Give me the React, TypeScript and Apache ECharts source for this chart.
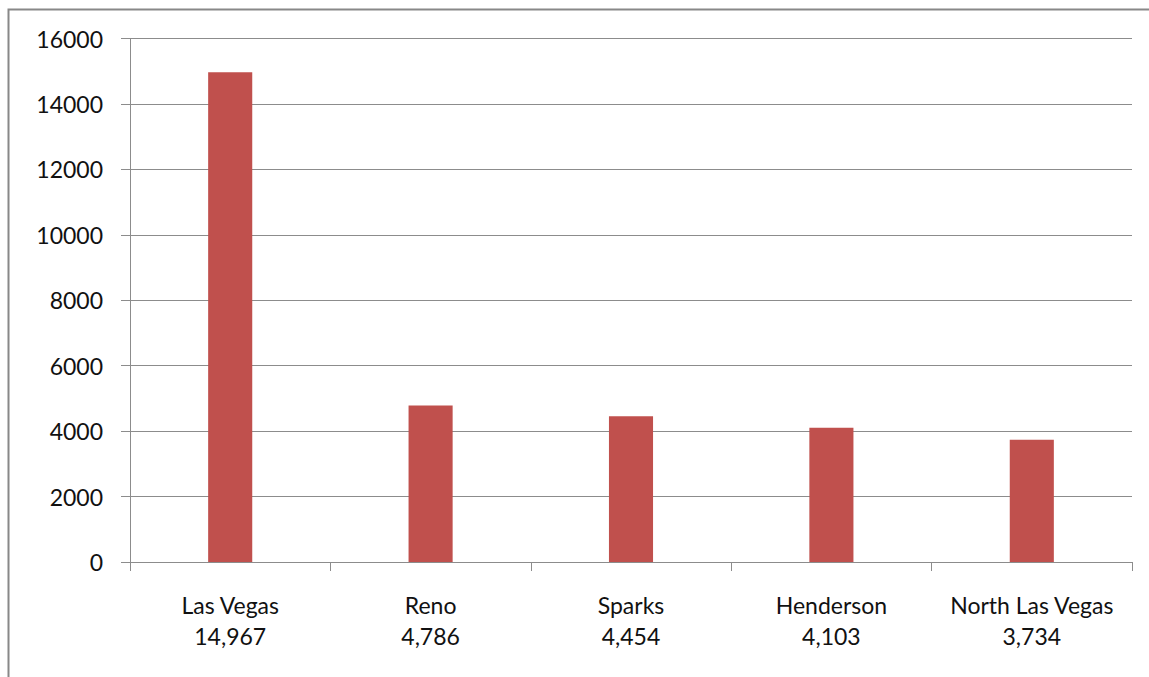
import React, { useEffect, useRef } from "react";
import * as echarts from "echarts";

const categories = ["Las Vegas", "Reno", "Sparks", "Henderson", "North Las Vegas"];
const values = [14967, 4786, 4454, 4103, 3734];
const yTicks = { min: 0, max: 16000, interval: 2000 };

export default function App() {
  const ref = useRef<HTMLDivElement>(null);
  useEffect(() => {
    if (!ref.current) return;
    const chart = echarts.init(ref.current, null, { renderer: "svg" });
    const labelMap: Record<string, string> = {};
    categories.forEach((c, i) => {
      labelMap[c] = c + "\n" + values[i].toLocaleString("en-US");
    });
    chart.setOption({
      animation: false,
      backgroundColor: "#ffffff",
      textStyle: { fontFamily: "Lato, 'Liberation Sans', sans-serif" },
      graphic: [
        {
          type: "rect",
          shape: { x: 8.5, y: 9.5, width: 2000, height: 2000 },
          style: { fill: "none", stroke: "#888888", lineWidth: 2 },
          silent: true,
        },
      ],
      grid: { left: 130, right: 17, top: 38.5, bottom: 115, containLabel: false },
      xAxis: {
        type: "category",
        data: categories,
        axisLine: { show: true, lineStyle: { color: "#8c8c8c", width: 1 } },
        axisTick: { show: true, alignWithLabel: false, length: 9, lineStyle: { color: "#8c8c8c" } },
        axisLabel: {
          margin: 27,
          fontSize: 23,
          lineHeight: 31,
          color: "#111111",
          fontFamily: "Lato, 'Liberation Sans', sans-serif",
          interval: 0,
          formatter: (v: string) => labelMap[v],
        },
        splitLine: { show: false },
      },
      yAxis: {
        type: "value",
        min: yTicks.min,
        max: yTicks.max,
        interval: yTicks.interval,
        axisLine: { show: true, lineStyle: { color: "#8c8c8c", width: 1 } },
        axisTick: { show: true, length: 9, lineStyle: { color: "#8c8c8c" } },
        axisLabel: {
          margin: 27,
          fontSize: 23,
          color: "#111111",
          fontFamily: "Lato, 'Liberation Sans', sans-serif",
          formatter: (v: number) => String(v),
        },
        splitLine: { show: true, lineStyle: { color: "#8c8c8c", width: 1 } },
      },
      series: [
        {
          type: "bar",
          data: values,
          barWidth: "22%",
          itemStyle: { color: "#C0504D" },
        },
      ],
    });
    return () => chart.dispose();
  }, []);
  return (
    <div
      ref={ref}
      style={{ position: "fixed", left: 0, top: 0, width: 1149, height: 677 }}
    />
  );
}
